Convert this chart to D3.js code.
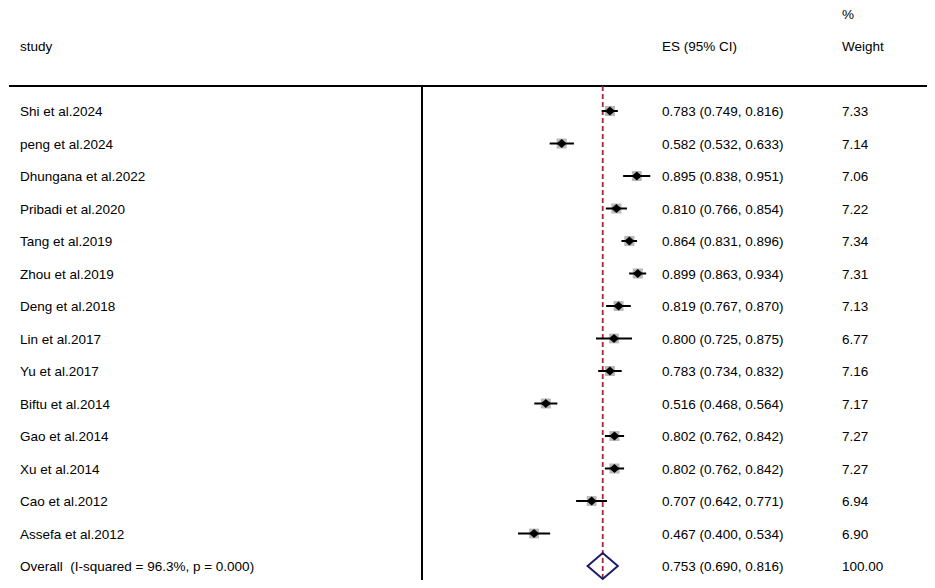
<!DOCTYPE html>
<html><head><meta charset="utf-8">
<script src="https://cdn.jsdelivr.net/npm/d3@7"></script>
<style>body{margin:0;background:#fff}svg text{font-family:"Liberation Sans",Arial,sans-serif;font-size:13.5px;fill:#000}</style>
</head><body><svg id="c" width="935" height="588"></svg>
<script>
const studies = ["Shi et al.2024","peng et al.2024","Dhungana et al.2022","Pribadi et al.2020","Tang et al.2019","Zhou et al.2019","Deng et al.2018","Lin et al.2017","Yu et al.2017","Biftu et al.2014","Gao et al.2014","Xu et al.2014","Cao et al.2012","Assefa et al.2012"];
const es = [0.783,0.582,0.895,0.810,0.864,0.899,0.819,0.800,0.783,0.516,0.802,0.802,0.707,0.467];
const lo = [0.749,0.532,0.838,0.766,0.831,0.863,0.767,0.725,0.734,0.468,0.762,0.762,0.642,0.400];
const hi = [0.816,0.633,0.951,0.854,0.896,0.934,0.870,0.875,0.832,0.564,0.842,0.842,0.771,0.534];
const weights = ["7.33","7.14","7.06","7.22","7.34","7.31","7.13","6.77","7.16","7.17","7.27","7.27","6.94","6.90"];
const overall = {label:"Overall  (I-squared = 96.3%, p = 0.000)", es:0.753, lo:0.690, hi:0.816, w:"100.00"};

const svg = d3.select("#c");
const x = d3.scaleLinear().domain([0,1]).range([422,662]);
const y = d3.scaleLinear().domain([0,14]).range([111,566]);
const fmt = d3.format(".3f");

// header
svg.append("text").attr("x",20).attr("y",51).text("study");
svg.append("text").attr("x",662).attr("y",51).text("ES (95% CI)");
svg.append("text").attr("x",842).attr("y",19).text("%");
svg.append("text").attr("x",842).attr("y",51).text("Weight");
svg.append("line").attr("x1",9).attr("x2",927).attr("y1",86).attr("y2",86).attr("stroke","#000").attr("stroke-width",2);
svg.append("line").attr("x1",x(0)).attr("x2",x(0)).attr("y1",86).attr("y2",580).attr("stroke","#000").attr("stroke-width",2);

// dashed overall line
svg.append("line").attr("x1",x(overall.es)).attr("x2",x(overall.es)).attr("y1",86).attr("y2",580)
  .attr("stroke","#a3283a").attr("stroke-width",1.8).attr("stroke-dasharray","5,3");

const g = svg.selectAll("g.row").data(studies).join("g").attr("class","row");
g.append("rect")
  .attr("x",(d,i)=>x(es[i]) - 3.73*Math.sqrt(+weights[i])/2)
  .attr("y",(d,i)=>y(i) - 3.73*Math.sqrt(+weights[i])/2)
  .attr("width",(d,i)=>3.73*Math.sqrt(+weights[i]))
  .attr("height",(d,i)=>3.73*Math.sqrt(+weights[i]))
  .attr("fill","#b8b8b8");
g.append("line").attr("x1",(d,i)=>x(lo[i])).attr("x2",(d,i)=>x(hi[i]))
  .attr("y1",(d,i)=>y(i)).attr("y2",(d,i)=>y(i)).attr("stroke","#000").attr("stroke-width",2);
g.append("path").attr("d",(d,i)=>{const cx=x(es[i]),cy=y(i);return `M${cx-5},${cy}L${cx},${cy-4.5}L${cx+5},${cy}L${cx},${cy+4.5}Z`;})
  .attr("fill","#000");
g.append("text").attr("x",20).attr("y",(d,i)=>y(i)+5).text(d=>d);
g.append("text").attr("x",662).attr("y",(d,i)=>y(i)+5).text((d,i)=>`${fmt(es[i])} (${fmt(lo[i])}, ${fmt(hi[i])})`);
g.append("text").attr("x",842).attr("y",(d,i)=>y(i)+5).text((d,i)=>weights[i]);

// overall
const oy = y(14);
svg.append("path").attr("d",`M${x(overall.lo)},${oy}L${x(overall.es)},${oy-13}L${x(overall.hi)},${oy}L${x(overall.es)},${oy+13}Z`)
  .attr("fill","none").attr("stroke","#1c1c6b").attr("stroke-width",2);
svg.append("text").attr("x",20).attr("y",oy+5).text(overall.label).attr("xml:space","preserve").style("white-space","pre");
svg.append("text").attr("x",662).attr("y",oy+5).text(`${fmt(overall.es)} (${fmt(overall.lo)}, ${fmt(overall.hi)})`);
svg.append("text").attr("x",842).attr("y",oy+5).text(overall.w);
</script></body></html>
